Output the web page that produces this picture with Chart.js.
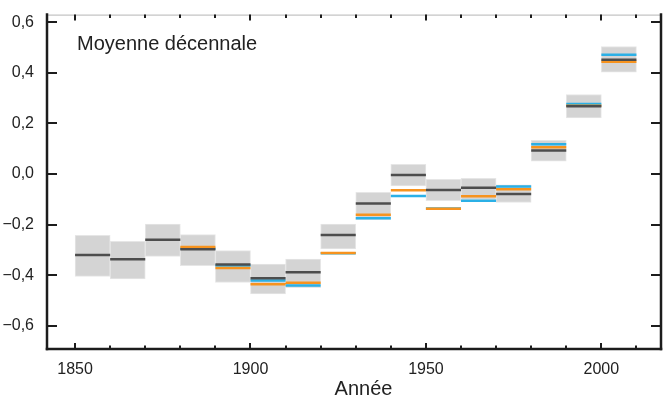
<!DOCTYPE html>
<html>
<head>
<meta charset="utf-8">
<script src="https://cdn.jsdelivr.net/npm/chart.js@4.4.1/dist/chart.umd.min.js"></script>
<style>
  html, body { margin: 0; padding: 0; background: #fff; }
  #wrap { width: 664px; height: 399px; }
</style>
</head>
<body>
<div id="wrap"><canvas id="c" width="664" height="399"></canvas></div>
<script>
// Decades (start year of each ten-year mean)
const decades = [1850, 1860, 1870, 1880, 1890, 1900, 1910, 1920, 1930, 1940, 1950, 1960, 1970, 1980, 1990, 2000];
// Uncertainty range (grey boxes)
const boxHigh = [-0.243, -0.266, -0.198, -0.240, -0.303, -0.356, -0.337, -0.198, -0.073, 0.038, -0.021, -0.017, -0.043, 0.133, 0.314, 0.504];
const boxLow  = [-0.405, -0.415, -0.326, -0.363, -0.429, -0.474, -0.450, -0.296, -0.181, -0.047, -0.106, -0.102, -0.113, 0.051, 0.222, 0.402];
// Decadal means of the three series
const seriesDark   = [-0.320, -0.337, -0.260, -0.298, -0.358, -0.412, -0.389, -0.241, -0.117, -0.004, -0.063, -0.055, -0.079, 0.093, 0.268, 0.452];
const seriesOrange = [null, null, null, -0.289, -0.372, -0.436, -0.430, -0.312, -0.161, -0.064, -0.138, -0.088, -0.060, 0.106, 0.270, 0.444];
const seriesBlue   = [null, null, null, -0.296, -0.362, -0.421, -0.441, -0.313, -0.175, -0.087, -0.137, -0.106, -0.050, 0.117, 0.277, 0.471];
// Tick labels
const xTickLabels = { 1850: '1850', 1900: '1900', 1950: '1950', 2000: '2000' };
const yTickLabels = { '-0.6': '\u22120,6', '-0.4': '\u22120,4', '-0.2': '\u22120,2', '0.0': '0,0', '0.2': '0,2', '0.4': '0,4', '0.6': '0,6' };
const annotationText = 'Moyenne décennale';
const xTitle = 'Année';

const FONT = "'Liberation Sans', Arial, sans-serif";

function segments(values) {
  const pts = [];
  decades.forEach((d, i) => {
    if (values[i] === null) return;
    pts.push({ x: d, y: values[i] }, { x: d + 10, y: values[i] }, { x: d + 10, y: null });
  });
  return pts;
}

const boxes = decades.map((d, i) => ({ x: d + 5, y: [boxLow[i], boxHigh[i]] }));

const framePlugin = {
  id: 'frame',
  afterDatasetsDraw(chart) {
    const { ctx, chartArea: a, scales: { x, y } } = chart;
    ctx.save();
    const seg = (x1, y1, x2, y2) => { ctx.beginPath(); ctx.moveTo(x1, y1); ctx.lineTo(x2, y2); ctx.stroke(); };
    // top thin line
    ctx.strokeStyle = '#b5b5b5'; ctx.lineWidth = 1;
    seg(a.left, a.top + 0.5, a.right, a.top + 0.5);
    // main frame
    ctx.strokeStyle = '#1c1c1c'; ctx.lineWidth = 2.5; ctx.lineCap = 'square';
    seg(a.left, a.top, a.left, a.bottom);
    seg(a.left, a.bottom, a.right, a.bottom);
    seg(a.right, a.top, a.right, a.bottom);
    ctx.lineCap = 'butt';
    // x ticks (inward, bottom and top)
    ctx.lineWidth = 2;
    x.ticks.forEach(t => {
      const px = Math.round(x.getPixelForValue(t.value));
      const len = t.value % 50 === 0 ? 6 : 3.5;
      seg(px, a.bottom, px, a.bottom - len);
      seg(px, a.top, px, a.top + len);
    });
    // y ticks (inward, left and right)
    y.ticks.forEach(t => {
      const py = Math.round(y.getPixelForValue(t.value));
      seg(a.left, py, a.left + 10, py);
      seg(a.right, py, a.right - 10, py);
    });
    // texts
    ctx.fillStyle = '#222';
    ctx.textBaseline = 'alphabetic';
    ctx.font = '20px ' + FONT;
    ctx.textAlign = 'left';
    ctx.fillText(annotationText, 77, 50);
    ctx.textAlign = 'center';
    ctx.font = '20px ' + FONT;
    ctx.fillText(xTitle, 363.5, 395);
    ctx.restore();
  }
};

new Chart(document.getElementById('c'), {
  type: 'line',
  data: {
    datasets: [
      {
        type: 'bar',
        data: boxes,
        backgroundColor: '#d4d4d4',
        borderColor: '#e6e6e6',
        borderWidth: 1,
        borderSkipped: false,
        barPercentage: 1,
        categoryPercentage: 1,
        order: 4
      },
      { type: 'line', data: segments(seriesBlue), borderColor: '#2bb0e6', borderWidth: 2.5, pointRadius: 0, spanGaps: false, order: 3 },
      { type: 'line', data: segments(seriesOrange), borderColor: '#f7931e', borderWidth: 2.5, pointRadius: 0, spanGaps: false, order: 2 },
      { type: 'line', data: segments(seriesDark), borderColor: '#4d4d4d', borderWidth: 2.5, pointRadius: 0, spanGaps: false, order: 1 }
    ]
  },
  options: {
    responsive: false,
    animation: false,
    events: [],
    layout: { padding: { top: 13, right: 3, left: 0, bottom: 0 } },
    plugins: { legend: { display: false }, tooltip: { enabled: false }, title: { display: false } },
    scales: {
      x: {
        type: 'linear',
        min: 1842,
        max: 2017,
        offset: false,
        grid: { display: false },
        border: { display: false },
        ticks: {
          stepSize: 10,
          includeBounds: false,
          autoSkip: false,
          maxRotation: 0,
          padding: 3,
          color: '#222',
          font: { family: FONT, size: 16 },
          callback: v => xTickLabels[v] || ''
        },
        afterFit: s => { s.height = 50; }
      },
      y: {
        type: 'linear',
        min: -0.692,
        max: 0.63,
        grid: { display: false },
        border: { display: false },
        ticks: {
          stepSize: 0.2,
          includeBounds: false,
          padding: 5,
          color: '#222',
          font: { family: FONT, size: 16 },
          callback: v => yTickLabels[Number(v).toFixed(1)] || ''
        },
        afterFit: s => { s.width = 47; }
      }
    }
  },
  plugins: [framePlugin]
});
</script>
</body>
</html>
